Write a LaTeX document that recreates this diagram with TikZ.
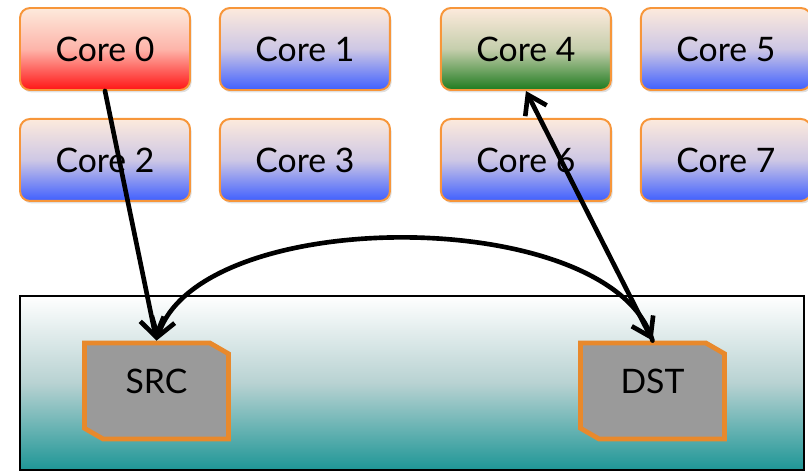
\documentclass[tikz,border=0pt]{standalone}
\usepackage{fontspec}
\setmainfont{Lato}
\usetikzlibrary{arrows.meta,positioning,shapes.misc,shadows}
\definecolor{corepeach}{HTML}{FDEADC}
\definecolor{coreblue}{HTML}{3F5FFF}
\definecolor{corered}{HTML}{FF1414}
\definecolor{coregreen}{HTML}{1E7B1E}
\definecolor{coreedge}{HTML}{F7963A}
\definecolor{bufedge}{HTML}{E8892C}
\definecolor{bufgrey}{HTML}{9A9A9A}
\definecolor{memteal}{HTML}{1E9696}
\definecolor{memmist}{HTML}{B8D2D2}
\tikzset{
  core/.style={draw=coreedge, line width=1.4pt, rounded corners=0.25cm,
    minimum width=4.25cm, minimum height=2.05cm,
    top color=corepeach, bottom color=#1, middle color=corepeach!75!#1,
    drop shadow={opacity=0.25, shadow xshift=0.04cm, shadow yshift=-0.06cm}},
  core/.default=coreblue,
  buffer/.style={draw=bufedge, line width=3.4pt, fill=bufgrey,
    chamfered rectangle, chamfered rectangle corners={north east,south west},
    chamfered rectangle angle=60, chamfered rectangle xsep=0.26cm,
    minimum width=3.6cm, minimum height=2.4cm, text depth=0.5cm},
  link/.style={line width=3.3pt, line cap=round, black}
}

\begin{document}
\begin{tikzpicture}[font=\fontsize{24}{28}\selectfont]
  \useasboundingbox (0,0) rectangle (20.2,-11.8);

  % shared memory region
  \draw[line width=1.2pt, top color=white, bottom color=memteal,
    middle color=memmist] (0.5,-7.4) rectangle (20.1,-11.75);

  % the eight cores, two rows of four
  \node[core=corered] (core0) at (2.625,-1.225) {Core 0};
  \node[core, right=0.7cm of core0] (core1) {Core 1};
  \node[core=coregreen, right=1.225cm of core1] (core4) {Core 4};
  \node[core, right=0.7cm of core4] (core5) {Core 5};
  \node[core, below=0.675cm of core0] (core2) {Core 2};
  \node[core, below=0.675cm of core1] (core3) {Core 3};
  \node[core, below=0.675cm of core4] (core6) {Core 6};
  \node[core, below=0.675cm of core5] (core7) {Core 7};

  % buffers in memory
  \node[buffer] (src) at (3.9125,-9.775) {SRC};
  \node[buffer] (dst) at (16.3125,-9.775) {DST};

  \draw[link, -{Straight Barb[length=0.45cm,width=0.6cm]}] (core0.south) -- (src.north);
  \draw[link, {Straight Barb[length=0.45cm,width=0.6cm]}-{Straight Barb[length=0.45cm,width=0.6cm]}]
    (core4.south) -- (dst.north);
  \draw[link, -{Straight Barb[length=0.45cm,width=0.6cm]}]
    (dst.north) .. controls (15.3,-5.1) and (5.0,-5.1) .. (src.north);
\end{tikzpicture}
\end{document}
